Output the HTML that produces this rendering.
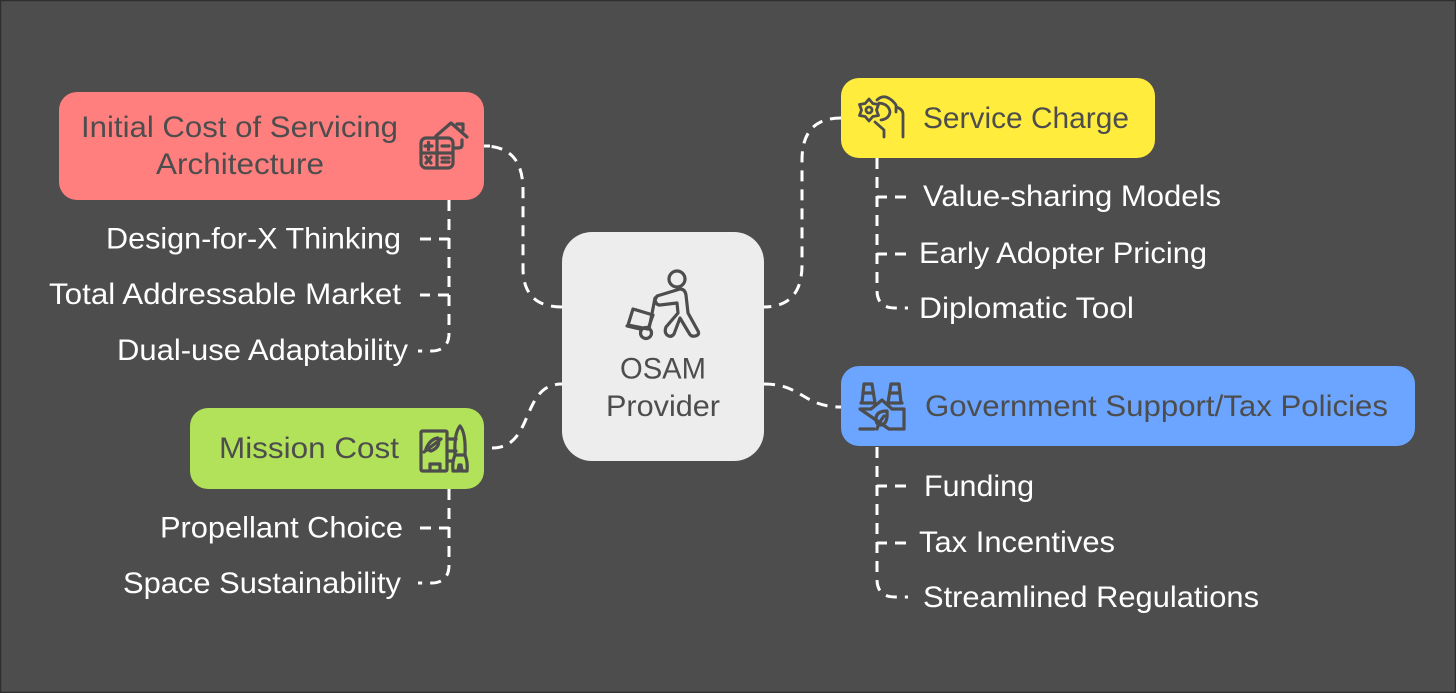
<!DOCTYPE html>
<html>
<head>
<meta charset="utf-8">
<style>
html,body{margin:0;padding:0;background:#4d4d4d;}
svg{display:block;}
text{font-family:"Liberation Sans",sans-serif;font-size:30px;}
.w{fill:#fff;}
.d{fill:#4d4d4d;}
.c{fill:none;stroke:#fff;stroke-width:3;stroke-dasharray:11 8;}
.i{fill:none;stroke:#4d4d4d;stroke-width:3.2;stroke-linecap:round;stroke-linejoin:round;}
</style>
</head>
<body>
<svg width="1456" height="693" viewBox="0 0 1456 693" xmlns="http://www.w3.org/2000/svg">
<rect x="0" y="0" width="1456" height="693" fill="#4d4d4d"/>
<rect x="0.5" y="0.5" width="1455" height="692" fill="none" stroke="#2f2f2f" stroke-width="1.5"/>

<!-- connectors -->
<path class="c" d="M562 307 Q523 307 523 268 V190 Q523 146 484 146"/>
<path d="M484 146 H490" fill="none" stroke="#fff" stroke-width="3"/>
<path class="c" d="M841 118 Q802 118 802 160 V265 Q802 307 763 307"/>
<path class="c" d="M764 384 C802 384 803 407 841 407"/>
<path class="c" d="M492 448 C535 448 520 384 562 384"/>

<path class="c" d="M449 200 V239 H420"/>
<path class="c" d="M449 200 V295 H420"/>
<path class="c" d="M449 200 V333 Q449 351 431 351 H418"/>
<path class="c" d="M449 489 V528 H420"/>
<path class="c" d="M449 489 V565 Q449 583 431 583 H418"/>

<path class="c" d="M877 158 V197 H908"/>
<path class="c" d="M877 158 V254 H908"/>
<path class="c" d="M877 158 V290 Q877 308 895 308 H908"/>
<path class="c" d="M877 447 V486 H908"/>
<path class="c" d="M877 447 V543 H908"/>
<path class="c" d="M877 447 V579 Q877 597 895 597 H908"/>

<!-- boxes -->
<rect x="59" y="92" width="425" height="108" rx="18" fill="#ff7f7f"/>
<rect x="190" y="408" width="294" height="81" rx="18" fill="#b2e15a"/>
<rect x="841" y="78" width="314" height="80" rx="18" fill="#ffec3d"/>
<rect x="841" y="366" width="574" height="80" rx="18" fill="#6ba5ff"/>
<rect x="562" y="232" width="202" height="229" rx="30" fill="#ededed"/>

<!-- calculator/house icon -->
<g class="i">
<rect x="421" y="138" width="32" height="30" rx="5"/>
<path d="M437 138 V168 M421 153 H453"/>
<path d="M425 146 H432 M428.500 142.500 V149.500 M442 146 H449 M442 158 H449 M442 162 H449 M426 157 L431 163 M431 157 L426 163"/>
<path d="M436 136 L451 123 L467 137 M457 124 H463 V130 M462 140 V145 Q462 148 458 148 H454"/>
</g>

<!-- person icon -->
<g class="i">
<circle cx="677" cy="279" r="8"/>
<path d="M655 298 L649 329 M627 326 L640 329"/>
<path d="M633 309 L653 315 L648 329 L628 325 Z"/>
<circle cx="646" cy="333" r="5.500"/>
<path d="M657 296 L680 289 Q685 289 686 295 L688 313 L698 331 Q700 335 695 336 Q691 337 689 333 L680 318 L674 334 Q671 338 667 335 Q664 332 666 327 L678 313 L677 303 L660 305 Q656 305 655 300 Z"/>
</g>

<!-- gear/hand icon -->
<g class="i" style="stroke-width:2.800">
<circle cx="869" cy="110" r="3"/>
<path d="M869 99 L872.800 103.500 L878.500 104.500 L876.500 110 L878.500 115.500 L872.800 116.500 L869 121 L865.200 116.500 L859.500 115.500 L861.500 110 L859.500 104.500 L865.200 103.500 Z"/>
<path d="M877 100 Q881 96 886 97 Q892 99 896 105 M896 107 Q903 109 903 114 V137 M896 105 V112"/>
<path d="M879 103 Q889 104 890 112 Q889 119 881 120 M875 122 L884 130 V137"/>
</g>

<!-- factory/leaf icon -->
<g class="i">
<path d="M862 403 L864 384 H872 L875 403 M861 403 H875 M863 393 H873"/>
<path d="M888 403 L891 384 H899 L901 403 M888 403 H902 M890 393 H900"/>
<path d="M860 429 H874 M889 429 H904 V409 H892 L882 400 L871 409 H860 Z"/>
<path d="M877 429 L879 423 M887 411 Q876 411 876 419 Q876 425 881 425 Q888 424 887 411 Z M879 423 L884 416"/>
</g>

<!-- rocket icon -->
<g class="i">
<rect x="421" y="431" width="26" height="40" rx="1.500"/>
<path d="M430 471 V464 H440 V471"/>
<path d="M447 439 H456 M447 451 H456 M447 461 H453"/>
<path d="M426 449 Q430 439 438 438 Q441 447 431 451 Z M424 452 L441 439"/>
<path d="M460 426 Q466 433 465 455 H455 Q454 433 460 426 Z"/>
<path d="M455 455 Q452 462 453 471 H458 L459 465 L461 465 L462 471 H467 Q468 462 465 455 M460 465 V471"/>
</g>

<!-- text -->
<text class="d" x="81" y="137" textLength="317" lengthAdjust="spacingAndGlyphs">Initial Cost of Servicing</text>
<text class="d" x="156" y="174" textLength="168" lengthAdjust="spacingAndGlyphs">Architecture</text>
<text class="w" x="106" y="248.500" textLength="295" lengthAdjust="spacingAndGlyphs">Design-for-X Thinking</text>
<text class="w" x="49" y="304" textLength="352" lengthAdjust="spacingAndGlyphs">Total Addressable Market</text>
<text class="w" x="117" y="360" textLength="291" lengthAdjust="spacingAndGlyphs">Dual-use Adaptability</text>
<text class="d" x="219" y="458" textLength="180" lengthAdjust="spacingAndGlyphs">Mission Cost</text>
<text class="w" x="160" y="537.500" textLength="243" lengthAdjust="spacingAndGlyphs">Propellant Choice</text>
<text class="w" x="123" y="593" textLength="278" lengthAdjust="spacingAndGlyphs">Space Sustainability</text>
<text class="d" x="620" y="378.500" textLength="86" lengthAdjust="spacingAndGlyphs">OSAM</text>
<text class="d" x="606" y="416" textLength="114" lengthAdjust="spacingAndGlyphs">Provider</text>
<text class="d" x="923" y="128" textLength="206" lengthAdjust="spacingAndGlyphs">Service Charge</text>
<text class="w" x="923" y="206" textLength="298" lengthAdjust="spacingAndGlyphs">Value-sharing Models</text>
<text class="w" x="919" y="263" textLength="288" lengthAdjust="spacingAndGlyphs">Early Adopter Pricing</text>
<text class="w" x="919" y="318" textLength="215" lengthAdjust="spacingAndGlyphs">Diplomatic Tool</text>
<text class="d" x="925" y="416" textLength="463" lengthAdjust="spacingAndGlyphs">Government Support/Tax Policies</text>
<text class="w" x="924" y="496" textLength="110" lengthAdjust="spacingAndGlyphs">Funding</text>
<text class="w" x="919" y="552" textLength="196" lengthAdjust="spacingAndGlyphs">Tax Incentives</text>
<text class="w" x="923" y="607" textLength="336" lengthAdjust="spacingAndGlyphs">Streamlined Regulations</text>
</svg>
</body>
</html>
